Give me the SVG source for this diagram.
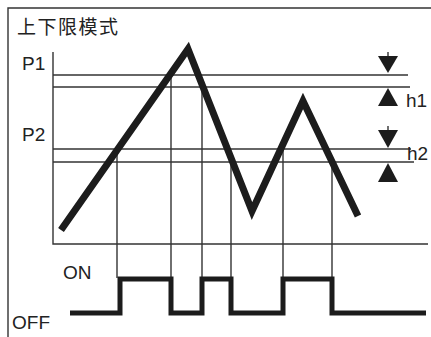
<svg xmlns="http://www.w3.org/2000/svg" width="431" height="337" viewBox="0 0 431 337">
<style>
.thin{stroke:#333;stroke-width:1.4;fill:none}
.wave{stroke:#1c1c1c;stroke-width:7;fill:none;stroke-linejoin:miter;stroke-miterlimit:10}
.pulse{stroke:#1c1c1c;stroke-width:5;fill:none;stroke-linejoin:miter}
.tri{fill:#1c1c1c}
.lbl{font-family:"Liberation Sans",Arial,sans-serif;font-size:19px;fill:#222}
.title{font-family:"Noto Sans CJK SC","Noto Sans CJK JP",sans-serif;font-size:19px;fill:#222;letter-spacing:1.5px}
</style>
<rect width="431" height="337" fill="#fff"/>
<g id="frame">
<path class="thin" d="M8,337 V8 H431"/>
</g>
<text class="title" x="17" y="34">上下限模式</text>
<g id="axes">
<path class="thin" d="M53,52 V244 H428"/>
</g>
<g id="levels">
<path class="thin" d="M53,75 H408"/>
<path class="thin" d="M53,87 H410"/>
<path class="thin" d="M53,149 H411"/>
<path class="thin" d="M53,162 H414"/>
</g>
<g id="guides">
<path class="thin" d="M117,149 V278"/>
<path class="thin" d="M171,75 V278"/>
<path class="thin" d="M202,87 V278"/>
<path class="thin" d="M231,162 V278"/>
<path class="thin" d="M283,149 V278"/>
<path class="thin" d="M332,162 V280"/>
</g>
<g id="hysteresis">
<path class="thin" d="M388,52 V57 M388,126 V131"/>
<polygon class="tri" points="378,56 398,56 388,73"/>
<polygon class="tri" points="388,88 378,106 398,106"/>
<polygon class="tri" points="378,130 398,130 388,148"/>
<polygon class="tri" points="388,163 378,182 398,182"/>
<text class="lbl" x="406" y="107">h1</text>
<text class="lbl" x="407" y="160">h2</text>
</g>
<g id="pv">
<path class="wave" d="M61,230 L188,49 L252,211 L303,101 L358,216"/>
</g>
<g id="output">
<path class="pulse" d="M70,313 H120 V279 H171 V313 H202 V279 H231 V313 H283 V279 H332 V313 H426"/>
</g>
<text class="lbl" x="22" y="70">P1</text>
<text class="lbl" x="22" y="141">P2</text>
<text class="lbl" x="63" y="279">ON</text>
<text class="lbl" x="12" y="329">OFF</text>
</svg>
